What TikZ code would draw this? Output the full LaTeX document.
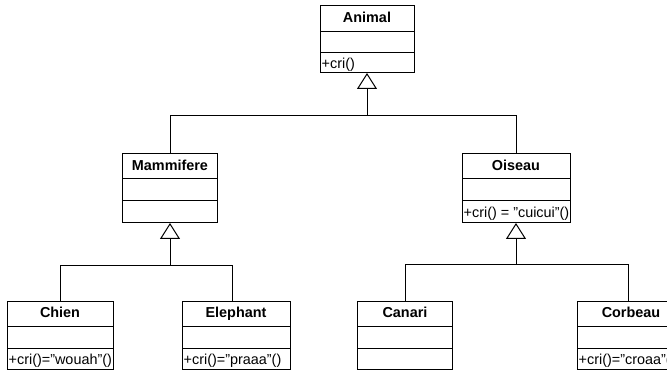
\documentclass[tikz,border=0pt]{standalone}
\usepackage{fontspec}
\setmainfont{Liberation Sans}
\usetikzlibrary{arrows.meta}

% one UML class: name, top-centre point, width, title, operation, three compartment heights
\newcommand\umlclass[8]{%
  \node[classhead, minimum width=#3, minimum height=#6] (#1-head) at #2 {#4};
  \node[compart, minimum width=#3, minimum height=#7] (#1-attr) at (#1-head.south) {};
  \node[compart, minimum width=#3, minimum height=#8] (#1-ops) at (#1-attr.south) {};
  \node[optext] (#1-optext) at (#1-ops.west) {#5};
}

\begin{document}
\begin{tikzpicture}[x=1pt,y=-1pt,
  uml/.style={font=\fontsize{14.4}{17}\selectfont},
  compart/.style={uml, draw=black, line width=1pt, rectangle, inner sep=0pt, outer sep=0pt, anchor=north},
  classhead/.style={compart, font=\fontsize{14.4}{17}\selectfont\bfseries, text height=10.4pt, text depth=3pt},
  optext/.style={uml, anchor=west, inner xsep=1.5pt, inner ysep=0pt, text height=12pt, text depth=1.5pt},
  link/.style={draw=black, line width=1pt},
  inherit/.style={link, -{Triangle[open, length=16pt, width=20pt, line width=1pt]}}
]
\useasboundingbox (0,0) rectangle (667,371);
\clip (0,0) rectangle (667,371);

% classes
\umlclass{animal}{(367,6)}{94}{Animal}{+cri()}{26}{21}{20}
\umlclass{mammifere}{(170,154)}{95}{Mammifere}{}{25}{22}{22}
\umlclass{oiseau}{(516,154)}{108}{Oiseau}{+cri() = "cuicui"()}{25}{22}{22}
\umlclass{chien}{(60,301.5)}{106}{Chien}{+cri()="wouah"()}{25.5}{22}{21}
\umlclass{elephant}{(236,301.5)}{108}{Elephant}{+cri()="praaa"()}{25.5}{22}{21}
\umlclass{canari}{(405,301.5)}{95}{Canari}{}{25.5}{22}{21}
\umlclass{corbeau}{(631,301.5)}{108}{Corbeau}{+cri()="croaa"()}{25.5}{22}{21}

% levels of the horizontal connector runs
\coordinate (bus-top) at (0,116);
\coordinate (bus-left) at (0,266);
\coordinate (bus-right) at (0,265);

% generalisations
\draw[inherit] (mammifere-head.north) |- (animal-ops.south |- bus-top) -- (animal-ops.south);
\draw[link] (oiseau-head.north) |- (animal-ops.south |- bus-top);

\draw[inherit] (chien-head.north) |- (mammifere-ops.south |- bus-left) -- (mammifere-ops.south);
\draw[link] ([xshift=-3.5pt]elephant-head.north) |- (mammifere-ops.south |- bus-left);

\draw[inherit] (canari-head.north) |- (oiseau-ops.south |- bus-right) -- (oiseau-ops.south);
\draw[link] ([xshift=-3pt]corbeau-head.north) |- (oiseau-ops.south |- bus-right);
\end{tikzpicture}
\end{document}
